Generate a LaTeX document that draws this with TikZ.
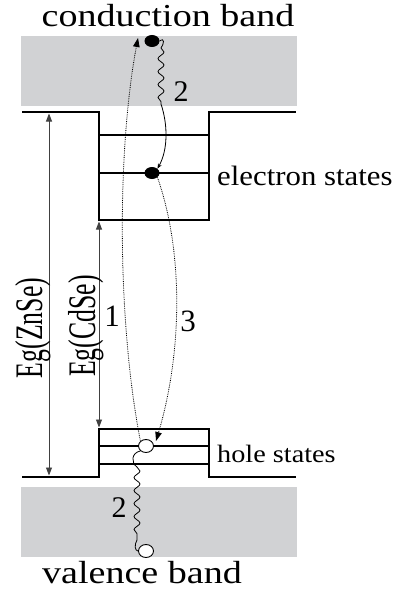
\documentclass[tikz,border=0pt]{standalone}
\usepackage{fontspec}
\setmainfont{Liberation Serif}
\usetikzlibrary{arrows.meta,decorations.pathmorphing,shapes.geometric}
\definecolor{bandgray}{HTML}{D1D2D4}
\begin{document}
\begin{tikzpicture}[x=1pt,y=-1pt,
  well/.style={line width=2.2pt},
  gap/.style={line width=0.9pt,draw=black!75,{Triangle[length=8pt,width=6pt]}-{Triangle[length=8pt,width=6pt]}},
  trans/.style={densely dotted,line width=0.8pt,-{Triangle[length=9pt,width=6.5pt]}},
  relax/.style={line width=0.8pt},
  wave/.style={line width=0.8pt,decorate,decoration={snake,amplitude=3pt,segment length=13pt}},
  electron/.style={ellipse,fill=black,minimum width=15pt,minimum height=12pt,inner sep=0pt},
  hole/.style={ellipse,draw=black,fill=white,line width=0.9pt,minimum width=15pt,minimum height=13pt,inner sep=0pt},
  lbl/.style={inner sep=0pt,anchor=base}]
\useasboundingbox (0,0) rectangle (398,594);
% bands
\fill[bandgray] (21,36) rectangle (297,106);
\fill[bandgray] (21,487) rectangle (297,557);
% wells
\draw[well] (22,112) -- (99,112) -- (99,220) -- (209,220) -- (209,112) -- (296,112);
\draw[well] (99,135) -- (209,135);
\draw[well] (99,173) -- (209,173);
\draw[well] (22,477) -- (99,477) -- (99,429) -- (209,429) -- (209,477) -- (296,477);
\draw[well] (99,446) -- (209,446);
\draw[well] (99,464) -- (209,464);
% gap arrows
\coordinate (zt) at (49,113.5);
\coordinate (zb) at (49,475.5);
\coordinate (ct) at (99,221.5);
\coordinate (cb) at (99,427.5);
\draw[gap] (zt) -- (zb);
\draw[gap] (ct) -- (cb);
% carriers
\node[electron] (ec) at (152,41) {};
\node[electron] (ew) at (152,173) {};
\node[hole] (hw) at (146,446) {};
\node[hole] (hv) at (146,551) {};
% transitions
\coordinate (t1) at (138,38);
\coordinate (t3) at (156,441);
\draw[trans] (hw.north west) .. controls (117,320) and (117,150) .. (t1);
\draw[trans] (ew.south east) .. controls (183,250) and (183,350) .. (t3);
% relaxation top
\coordinate (w1) at (161,48);
\coordinate (w2) at (161,104);
\draw[relax] (ec.east) .. controls (165,37) and (164,44) .. (w1);
\draw[wave] (w1) -- (w2);
\draw[relax,-{Stealth[length=5pt,width=4pt]}] (w2) .. controls (168,125) and (168,150) .. (ew.north east);
% relaxation bottom
\coordinate (w3) at (137,467);
\coordinate (w4) at (137,540);
\draw[relax] (hw.south west) .. controls (131,453) and (131,463) .. (w3);
\draw[wave] (w3) -- (w4);
\draw[relax] (w4) .. controls (134,545) and (135,551) .. (hv.west);
% labels
\node[lbl] (lcb) at (168,27) {\scalebox{1.19}[1]{\fontsize{32}{32}\selectfont conduction band}};
\node[lbl] (lvb) at (142,583) {\scalebox{1.19}[1]{\fontsize{32}{32}\selectfont valence band}};
\node[lbl,anchor=base west] (les) at (217,185) {\scalebox{1.1}[1]{\fontsize{28}{28}\selectfont electron states}};
\node[lbl,anchor=base west] (lhs) at (217,462) {\scalebox{1.13}[1]{\fontsize{25}{25}\selectfont hole states}};
\node[lbl,rotate=90] (lgz) at (42,328) {\scalebox{0.66}[1]{\fontsize{39}{39}\selectfont Eg(ZnSe)}};
\node[lbl,rotate=90] (lgc) at (95,326) {\scalebox{0.66}[1]{\fontsize{39}{39}\selectfont Eg(CdSe)}};
\node[lbl] (n1) at (112,326) {\fontsize{31}{31}\selectfont 1};
\node[lbl] (n3) at (188,331) {\fontsize{31}{31}\selectfont 3};
\node[lbl] (n2a) at (181,101) {\fontsize{30}{30}\selectfont 2};
\node[lbl] (n2b) at (119,517) {\fontsize{30}{30}\selectfont 2};
\end{tikzpicture}
\end{document}
